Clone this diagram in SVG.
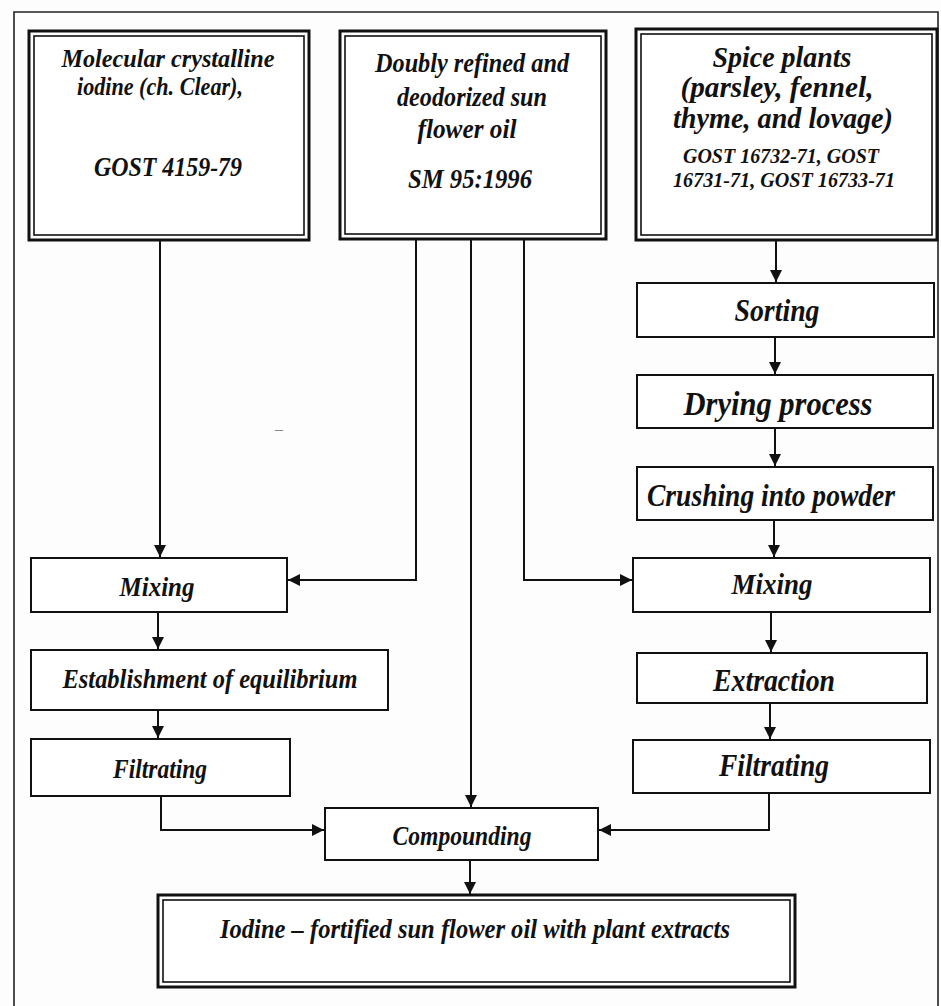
<svg xmlns="http://www.w3.org/2000/svg" width="941" height="1006" viewBox="0 0 941 1006">
<style>
  .t{font-family:"Liberation Serif","Times New Roman",serif;font-weight:bold;font-style:italic;fill:#111;text-anchor:middle}
  .box{fill:#fff;stroke:#111;stroke-width:2}
  .dbo{fill:#fff;stroke:#111;stroke-width:3}
  .dbi{fill:none;stroke:#111;stroke-width:1.6}
  .c{fill:none;stroke:#111;stroke-width:2}
  .frame{fill:none;stroke:#222;stroke-width:1.6}
</style>
<defs>
  <marker id="ah" viewBox="0 0 10 10" refX="10" refY="5" markerWidth="6" markerHeight="6" markerUnits="strokeWidth" orient="auto">
    <path d="M0,0 L10,5 L0,10 Z" fill="#111"/>
  </marker>
</defs>
<rect width="941" height="1006" fill="#fdfdfd"/>
<path class="frame" d="M14,1006 V12 H938 V1006"/>
<text x="279" y="434" class="t" style="font-size:16px;fill:#888;font-weight:normal">–</text>

<g id="connectors">
  <path class="c" d="M160,240 V557" marker-end="url(#ah)"/>
  <path class="c" d="M416,240 V580 H288" marker-end="url(#ah)"/>
  <path class="c" d="M471,240 V807" marker-end="url(#ah)"/>
  <path class="c" d="M524,240 V580 H632" marker-end="url(#ah)"/>
  <path class="c" d="M776,240 V282" marker-end="url(#ah)"/>
  <path class="c" d="M775,330 V374" marker-end="url(#ah)"/>
  <path class="c" d="M775,422 V466" marker-end="url(#ah)"/>
  <path class="c" d="M774,513 V557" marker-end="url(#ah)"/>
  <path class="c" d="M771,604 V652" marker-end="url(#ah)"/>
  <path class="c" d="M770,703 V739" marker-end="url(#ah)"/>
  <path class="c" d="M769,786 V830 H599" marker-end="url(#ah)"/>
  <path class="c" d="M158,604 V649" marker-end="url(#ah)"/>
  <path class="c" d="M158,697 V738" marker-end="url(#ah)"/>
  <path class="c" d="M161,786 V830 H324" marker-end="url(#ah)"/>
  <path class="c" d="M470,853 V894" marker-end="url(#ah)"/>
</g>

<g id="n-iodine">
  <rect class="dbo" x="29" y="31" width="280" height="209"/>
  <rect class="dbi" x="34" y="36" width="270" height="199"/>
  <text class="t" style="font-size:26px" x="168" y="67" textLength="213" lengthAdjust="spacingAndGlyphs">Molecular crystalline</text>
  <text class="t" style="font-size:26px" x="160" y="95" textLength="166" lengthAdjust="spacingAndGlyphs">iodine (ch. Clear),</text>
  <text class="t" style="font-size:27px" x="168" y="176" textLength="148" lengthAdjust="spacingAndGlyphs">GOST 4159-79</text>
</g>

<g id="n-oil">
  <rect class="dbo" x="340" y="31" width="266" height="208"/>
  <rect class="dbi" x="345" y="36" width="256" height="198"/>
  <text class="t" style="font-size:27px" x="472" y="72" textLength="194" lengthAdjust="spacingAndGlyphs">Doubly refined and</text>
  <text class="t" style="font-size:27px" x="472" y="106" textLength="150" lengthAdjust="spacingAndGlyphs">deodorized sun</text>
  <text class="t" style="font-size:27px" x="467" y="138" textLength="99" lengthAdjust="spacingAndGlyphs">flower oil</text>
  <text class="t" style="font-size:28px" x="470" y="188" textLength="124" lengthAdjust="spacingAndGlyphs">SM 95:1996</text>
</g>

<g id="n-spice">
  <rect class="dbo" x="636" y="29" width="301" height="211"/>
  <rect class="dbi" x="641" y="34" width="291" height="201"/>
  <text class="t" style="font-size:30px" x="782" y="67" textLength="139" lengthAdjust="spacingAndGlyphs">Spice plants</text>
  <text class="t" style="font-size:30px" x="777" y="97" textLength="193" lengthAdjust="spacingAndGlyphs">(parsley, fennel,</text>
  <text class="t" style="font-size:30px" x="783" y="128" textLength="220" lengthAdjust="spacingAndGlyphs">thyme, and lovage)</text>
  <text class="t" style="font-size:22px" x="781" y="163" textLength="196" lengthAdjust="spacingAndGlyphs">GOST 16732-71, GOST</text>
  <text class="t" style="font-size:22px" x="784" y="187" textLength="222" lengthAdjust="spacingAndGlyphs">16731-71, GOST 16733-71</text>
</g>

<g id="n-sorting">
  <rect class="box" x="637" y="283" width="297" height="54"/>
  <text class="t" style="font-size:31px" x="777" y="321" textLength="85" lengthAdjust="spacingAndGlyphs">Sorting</text>
</g>
<g id="n-drying">
  <rect class="box" x="637" y="375" width="296" height="53"/>
  <text class="t" style="font-size:33px" x="778" y="415" textLength="189" lengthAdjust="spacingAndGlyphs">Drying process</text>
</g>
<g id="n-crushing">
  <rect class="box" x="637" y="467" width="296" height="53"/>
  <text class="t" style="font-size:31px" x="771" y="506" textLength="248" lengthAdjust="spacingAndGlyphs">Crushing into powder</text>
</g>
<g id="n-mixing-r">
  <rect class="box" x="633" y="558" width="297" height="54"/>
  <text class="t" style="font-size:30px" x="772" y="594" textLength="81" lengthAdjust="spacingAndGlyphs">Mixing</text>
</g>
<g id="n-extraction">
  <rect class="box" x="637" y="653" width="290" height="50"/>
  <text class="t" style="font-size:31px" x="774" y="691" textLength="122" lengthAdjust="spacingAndGlyphs">Extraction</text>
</g>
<g id="n-filtrating-r">
  <rect class="box" x="633" y="740" width="297" height="53"/>
  <text class="t" style="font-size:31px" x="774" y="776" textLength="110" lengthAdjust="spacingAndGlyphs">Filtrating</text>
</g>

<g id="n-mixing-l">
  <rect class="box" x="31" y="558" width="256" height="54"/>
  <text class="t" style="font-size:28px" x="157" y="596" textLength="75" lengthAdjust="spacingAndGlyphs">Mixing</text>
</g>
<g id="n-equilibrium">
  <rect class="box" x="31" y="650" width="357" height="60"/>
  <text class="t" style="font-size:28px" x="210" y="688" textLength="295" lengthAdjust="spacingAndGlyphs">Establishment of equilibrium</text>
</g>
<g id="n-filtrating-l">
  <rect class="box" x="31" y="739" width="259" height="57"/>
  <text class="t" style="font-size:27px" x="160" y="778" textLength="94" lengthAdjust="spacingAndGlyphs">Filtrating</text>
</g>

<g id="n-compounding">
  <rect class="box" x="325" y="808" width="273" height="52"/>
  <text class="t" style="font-size:27px" x="462" y="845" textLength="139" lengthAdjust="spacingAndGlyphs">Compounding</text>
</g>

<g id="n-product">
  <rect class="dbo" x="158" y="895" width="637" height="92"/>
  <rect class="dbi" x="163" y="900" width="627" height="82"/>
  <text class="t" style="font-size:28px" x="475" y="938" textLength="510" lengthAdjust="spacingAndGlyphs">Iodine – fortified sun flower oil with plant extracts</text>
</g>
</svg>
